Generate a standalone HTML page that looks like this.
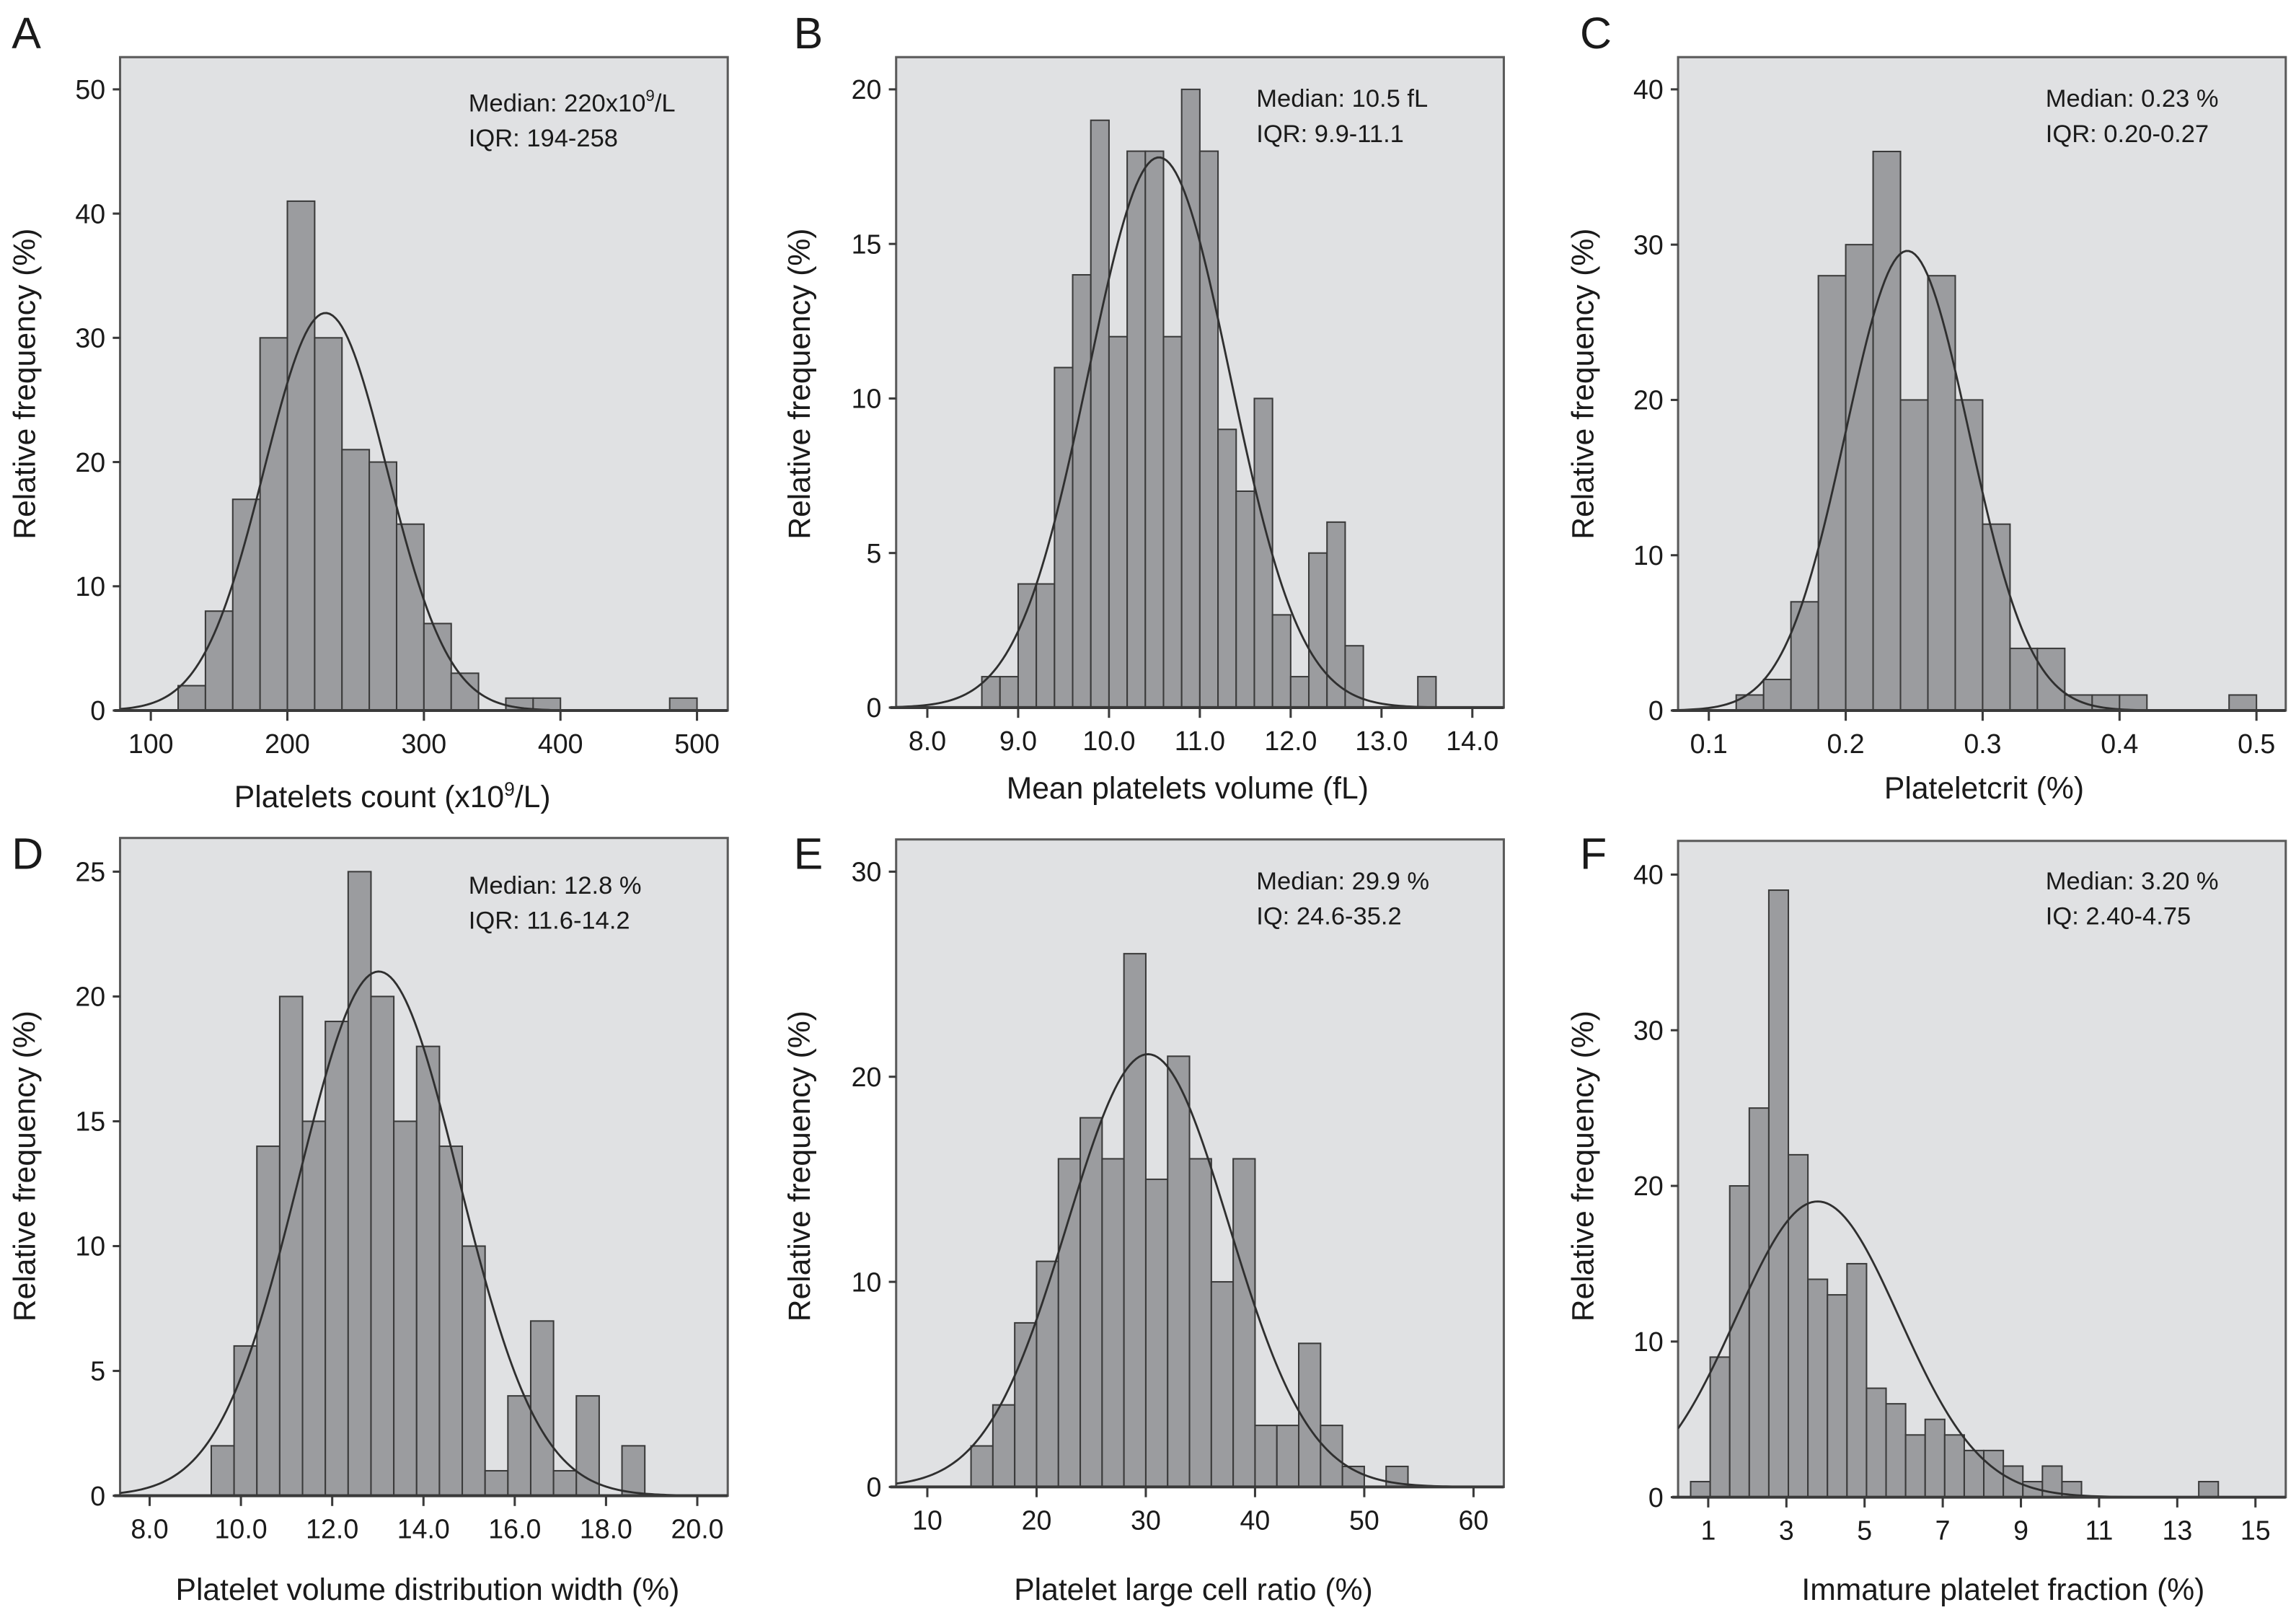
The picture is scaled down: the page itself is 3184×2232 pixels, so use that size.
<!DOCTYPE html>
<html><head><meta charset="utf-8"><style>
html,body{margin:0;padding:0;background:#fff;}
svg{display:block;}
text{font-family:"Liberation Sans",Arial,sans-serif;fill:#1a1a1a;}
</style></head><body>
<svg id="fig" width="3184" height="2232" viewBox="0 0 1568 1099" preserveAspectRatio="none" xmlns="http://www.w3.org/2000/svg"></svg>
<script>
// ---- data (bin start, bin width, relative frequency %) ----
const aBinStart = 120, aBinWidth = 20;
const aFreq = [2,8,17,30,41,30,21,20,15,7,3,0,1,1,0,0,0,0,1];
const bBinStart = 8.6, bBinWidth = 0.2;
const bFreq = [1,1,4,4,11,14,19,12,18,18,12,20,18,9,7,10,3,1,5,6,2,0,0,0,1];
const cBinStart = 0.12, cBinWidth = 0.02;
const cFreq = [1,2,7,28,30,36,20,28,20,12,4,4,1,1,1,0,0,0,1];
const dBinStart = 9.35, dBinWidth = 0.5;
const dFreq = [2,6,14,20,15,19,25,20,15,18,14,10,1,4,7,1,4,0,2];
const eBinStart = 14, eBinWidth = 2;
const eFreq = [2,4,8,11,16,18,16,26,15,21,16,10,16,3,3,7,3,1,0,1];
const fBinStart = 0.55, fBinWidth = 0.5;
const fFreq = [1,9,20,25,39,22,14,13,15,7,6,4,5,4,3,3,2,1,2,1,0,0,0,0,0,0,1];
// normal fit curves: [mean, sd, peak]
const aFit = [228, 45, 32];
const bFit = [10.55, 0.78, 17.8];
const cFit = [0.245, 0.045, 29.6];
const dFit = [13.02, 1.75, 21];
const eFit = [30.2, 7.4, 21.1];
const fFit = [3.8, 2.09, 19];
// tick labels
const aXTicks = ["100","200","300","400","500"], aYTicks = ["0","10","20","30","40","50"];
const bXTicks = ["8.0","9.0","10.0","11.0","12.0","13.0","14.0"], bYTicks = ["0","5","10","15","20"];
const cXTicks = ["0.1","0.2","0.3","0.4","0.5"], cYTicks = ["0","10","20","30","40"];
const dXTicks = ["8.0","10.0","12.0","14.0","16.0","18.0","20.0"], dYTicks = ["0","5","10","15","20","25"];
const eXTicks = ["10","20","30","40","50","60"], eYTicks = ["0","10","20","30"];
const fXTicks = ["1","3","5","7","9","11","13","15"], fYTicks = ["0","10","20","30","40"];

const NS = "http://www.w3.org/2000/svg";
const svg = document.getElementById('fig');
function mk(tag, attrs, parent){const e=document.createElementNS(NS,tag);for(const k in attrs)e.setAttribute(k,attrs[k]);(parent||svg).appendChild(e);return e;}

const panels = [
 {id:'a',letter:'A',lx:8,ly:33,fx0:82,fx1:497,fy0:39,fy1:485,xv0:100,xp0:103,xv1:500,xp1:476,yv1:50,yp1:61,
  start:aBinStart,w:aBinWidth,freq:aFreq,fit:aFit,xt:aXTicks,yt:aYTicks,
  note:['Median: 220x10','IQR: 194-258'],sup:true,nx:320,ny:76,
  title:'Platelets count (x10',titleSup:true,tx:268,ty:551,ytx:24,yty:262},
 {id:'b',letter:'B',lx:542,ly:33,fx0:612,fx1:1027,fy0:39,fy1:483,xv0:8,xp0:633.3,xv1:14,xp1:1005.5,yv1:20,yp1:61,
  start:bBinStart,w:bBinWidth,freq:bFreq,fit:bFit,xt:bXTicks,yt:bYTicks,
  note:['Median: 10.5 fL','IQR: 9.9-11.1'],nx:858,ny:73,
  title:'Mean platelets volume (fL)',tx:811,ty:545,ytx:553,yty:262},
 {id:'c',letter:'C',lx:1079,ly:33,fx0:1146,fx1:1561,fy0:39,fy1:485,xv0:0.1,xp0:1167,xv1:0.5,xp1:1541,yv1:40,yp1:61,
  start:cBinStart,w:cBinWidth,freq:cFreq,fit:cFit,xt:cXTicks,yt:cYTicks,
  note:['Median: 0.23 %','IQR: 0.20-0.27'],nx:1397,ny:73,
  title:'Plateletcrit (%)',tx:1355,ty:545,ytx:1088,yty:262},
 {id:'d',letter:'D',lx:8,ly:593,fx0:82,fx1:497,fy0:572,fy1:1021,xv0:8,xp0:102.2,xv1:20,xp1:476.2,yv1:25,yp1:595,
  start:dBinStart,w:dBinWidth,freq:dFreq,fit:dFit,xt:dXTicks,yt:dYTicks,
  note:['Median: 12.8 %','IQR: 11.6-14.2'],nx:320,ny:610,
  title:'Platelet volume distribution width (%)',tx:292,ty:1092,ytx:24,yty:796},
 {id:'e',letter:'E',lx:542,ly:593,fx0:612,fx1:1027,fy0:573,fy1:1015,xv0:10,xp0:633.3,xv1:60,xp1:1006.3,yv1:30,yp1:595,
  start:eBinStart,w:eBinWidth,freq:eFreq,fit:eFit,xt:eXTicks,yt:eYTicks,
  note:['Median: 29.9 %','IQ: 24.6-35.2'],nx:858,ny:607,
  title:'Platelet large cell ratio (%)',tx:815,ty:1092,ytx:553,yty:796},
 {id:'f',letter:'F',lx:1079,ly:593,fx0:1146,fx1:1561,fy0:574,fy1:1022,xv0:1,xp0:1166.6,xv1:15,xp1:1540.3,yv1:40,yp1:597,
  start:fBinStart,w:fBinWidth,freq:fFreq,fit:fFit,xt:fXTicks,yt:fYTicks,
  note:['Median: 3.20 %','IQ: 2.40-4.75'],nx:1397,ny:607,
  title:'Immature platelet fraction (%)',tx:1368,ty:1092,ytx:1088,yty:796}
];

panels.forEach(p=>{
  const g = mk('g',{});
  
  
  const X = v => p.xp0 + (v-p.xv0)*(p.xp1-p.xp0)/(p.xv1-p.xv0);
  const Y = v => p.fy1 - v*(p.fy1-p.yp1)/p.yv1;
  const letter = mk('text',{x:p.lx,y:p.ly,'font-size':30},g); letter.textContent=p.letter;
  
  
  const bg = mk('rect',{x:p.fx0,y:p.fy0,width:p.fx1-p.fx0,height:p.fy1-p.fy0,fill:'#e0e1e3',stroke:'#5a5a5a','stroke-width':1.5},g);
  
  
  const clipId='clip'+p.id;
  const cp = mk('clipPath',{id:clipId},g); mk('rect',{x:p.fx0,y:p.fy0,width:p.fx1-p.fx0,height:p.fy1-p.fy0},cp);
  p.freq.forEach((f,i)=>{
    if(f<=0) return;
    const x0=X(p.start+i*p.w), x1=X(p.start+(i+1)*p.w);
    const r = mk('rect',{x:x0,y:Y(f),width:x1-x0,height:p.fy1-Y(f),fill:'#9b9c9f',stroke:'#3a3a3a','stroke-width':1},g);
    
    
  });
  let d='';
  const lo=(p.fx0-p.xp0)*(p.xv1-p.xv0)/(p.xp1-p.xp0)+p.xv0, hi=(p.fx1-p.xp0)*(p.xv1-p.xv0)/(p.xp1-p.xp0)+p.xv0;
  for(let k=0;k<=200;k++){const v=lo+(hi-lo)*k/200;const y=p.fit[2]*Math.exp(-Math.pow(v-p.fit[0],2)/(2*p.fit[1]*p.fit[1]));d+=(k?'L':'M')+X(v).toFixed(2)+','+Y(y).toFixed(2);}
  const c = mk('path',{d:d,fill:'none',stroke:'#2f2f2f','stroke-width':1.4,'clip-path':'url(#'+clipId+')'},g);
  
  
  mk('line',{x1:p.fx0-4,y1:p.fy1,x2:p.fx1,y2:p.fy1,stroke:'#3a3a3a','stroke-width':2},g);
  p.yt.forEach((t,i)=>{
    const v=parseFloat(t), y=Y(v);
    mk('line',{x1:p.fx0-5,y1:y,x2:p.fx0,y2:y,stroke:'#3a3a3a','stroke-width':1.5},g);
    const tx=mk('text',{x:p.fx0-10,y:y+6.5,'font-size':18.5,'text-anchor':'end'},g); tx.textContent=t;
    
    
  });
  p.xt.forEach((t,i)=>{
    const v=parseFloat(t), x=X(v);
    mk('line',{x1:x,y1:p.fy1,x2:x,y2:p.fy1+7,stroke:'#3a3a3a','stroke-width':1.5},g);
    const tx=mk('text',{x:x,y:p.fy1+29,'font-size':18.5,'text-anchor':'middle'},g); tx.textContent=t;
    
    
  });
  const n1=mk('text',{x:p.nx,y:p.ny,'font-size':17},g);
  
  
  n1.textContent=p.note[0];
  if(p.sup){const s=mk('tspan',{dy:-7,'font-size':11},n1);s.textContent='9';const s2=mk('tspan',{dy:7},n1);s2.textContent='/L';}
  const n2=mk('text',{x:p.nx,y:p.ny+24,'font-size':17},g);
  
  
  n2.textContent=p.note[1];
  const xt=mk('text',{x:p.tx,y:p.ty,'font-size':21,'text-anchor':'middle'},g);
  
  
  xt.textContent=p.title;
  if(p.titleSup){const s=mk('tspan',{dy:-8,'font-size':13},xt);s.textContent='9';const s2=mk('tspan',{dy:8},xt);s2.textContent='/L)';}
  const yt=mk('text',{x:0,y:0,'font-size':21,'text-anchor':'middle',transform:'translate('+p.ytx+','+p.yty+') rotate(-90)'},g);
  
  
  yt.textContent='Relative frequency (%)';
});
</script>
</body></html>
